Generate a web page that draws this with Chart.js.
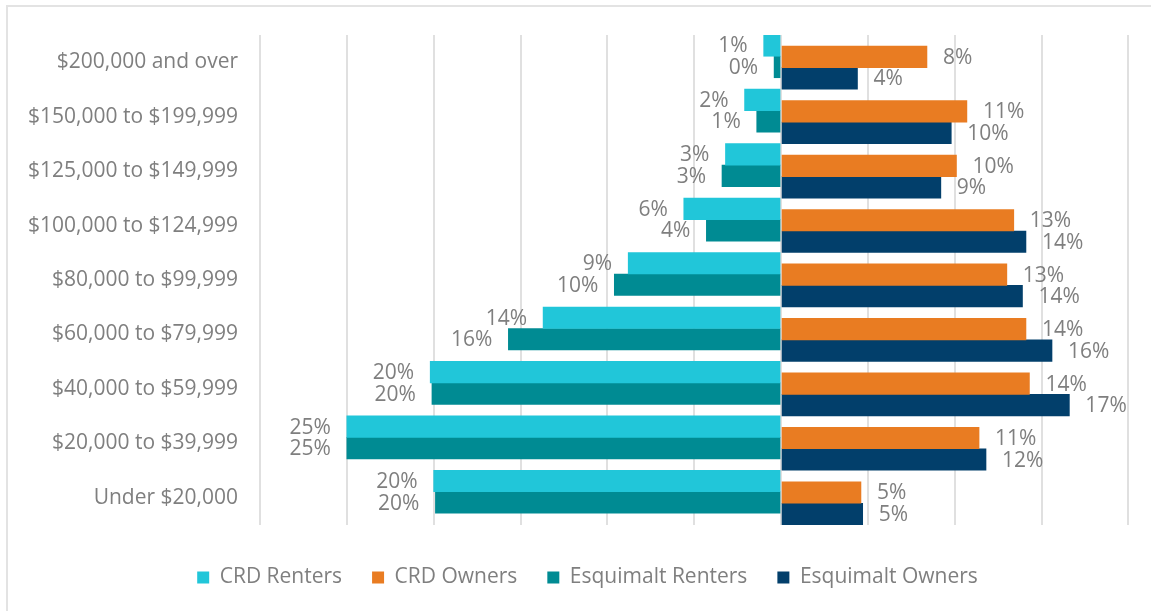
<!DOCTYPE html>
<html>
<head>
<meta charset="utf-8">
<script src="https://cdn.jsdelivr.net/npm/chart.js@4.4.0/dist/chart.umd.min.js"></script>
<style>
  html, body { margin: 0; padding: 0; background: #fff; }
  #wrap { width: 1151px; height: 611px; position: relative; }
</style>
</head>
<body>
<div id="wrap"><canvas id="myChart" width="1151" height="611"></canvas></div>
<script>
var incomes = ['$200,000 and over', '$150,000 to $199,999', '$125,000 to $149,999', '$100,000 to $124,999',
    '$80,000 to $99,999', '$60,000 to $79,999', '$40,000 to $59,999', '$20,000 to $39,999', 'Under $20,000'];
// percent of households, renters are drawn to the left
var crdRenters = [1.0, 2.1, 3.2, 5.6, 8.8, 13.7, 20.2, 25.0, 20.0];
var crdOwners = [8.4, 10.7, 10.1, 13.4, 13.0, 14.1, 14.3, 11.4, 4.6];
var esqRenters = [0.4, 1.4, 3.4, 4.3, 9.6, 15.7, 20.1, 25.0, 19.9];
var esqOwners = [4.4, 9.8, 9.2, 14.1, 13.9, 15.6, 16.6, 11.8, 4.7];
var gridTicks = [-30, -25, -20, -15, -10, -5, 0, 5, 10, 15, 20];

var grey = '#7f7f7f';
var font = '"Open Sans", "Noto Sans", sans-serif';

// renters and owners sit a bit apart inside each band, like the excel original (two axes)
function points(arr, sign, shift) {
    return arr.map(function (v, i) { return { x: sign * v, y: i + shift }; });
}

var datasets = [
    { label: 'CRD Renters', data: points(crdRenters, -1, -0.11), backgroundColor: '#21c6d9', stack: 'crd' },
    { label: 'CRD Owners', data: points(crdOwners, 1, 0.1), backgroundColor: '#e97c22', stack: 'crd' },
    { label: 'Esquimalt Renters', data: points(esqRenters, -1, -0.11), backgroundColor: '#008b93', stack: 'esq' },
    { label: 'Esquimalt Owners', data: points(esqOwners, 1, 0.1), backgroundColor: '#023f6b', stack: 'esq' }
];

// percent labels just past the end of each bar
var valueLabels = {
    id: 'valueLabels',
    afterDatasetsDraw: function (chart) {
        var c = chart.ctx;
        c.save();
        c.font = '21px ' + font;
        c.fillStyle = grey;
        c.textBaseline = 'middle';
        chart.data.datasets.forEach(function (ds, i) {
            var meta = chart.getDatasetMeta(i);
            meta.data.forEach(function (bar, j) {
                var v = ds.data[j].x;
                var txt = Math.round(Math.abs(v)) + '%';
                if (v < 0) {
                    c.textAlign = 'right';
                    c.fillText(txt, bar.x - 16, bar.y + 1);
                } else {
                    c.textAlign = 'left';
                    c.fillText(txt, bar.x + 16, bar.y + 1);
                }
            });
        });
        c.restore();
    }
};

// frame lines on top and left like the original picture
var frame = {
    id: 'frame',
    beforeDraw: function (chart) {
        var c = chart.ctx;
        c.save();
        c.strokeStyle = '#e3e3e3';
        c.lineWidth = 2;
        c.beginPath();
        c.moveTo(7, 611);
        c.lineTo(7, 6);
        c.lineTo(1151, 6);
        c.stroke();
        c.restore();
    }
};

var ctx = document.getElementById('myChart');
var myChart = new Chart(ctx, {
    type: 'bar',
    data: {
        datasets: datasets
    },
    plugins: [frame, valueLabels],
    options: {
        indexAxis: 'y',
        responsive: false,
        animation: false,
        layout: { padding: { left: 24, right: 0, top: 35, bottom: 13 } },
        datasets: { bar: { barThickness: 21.5 } },
        scales: {
            x: {
                stacked: true,
                min: -30,
                max: 21.3,
                afterBuildTicks: function (scale) {
                    scale.ticks = gridTicks.map(function (v) { return { value: v }; });
                },
                afterFit: function (scale) { scale.height = 12; },
                ticks: { display: false },
                grid: { color: '#e0e0e0', lineWidth: 2, drawTicks: false },
                border: { display: false }
            },
            y: {
                type: 'linear',
                offset: false,
                stacked: true,
                reverse: true,
                min: -0.5,
                max: 8.5,
                afterBuildTicks: function (scale) {
                    scale.ticks = incomes.map(function (s, i) { return { value: i }; });
                },
                afterFit: function (scale) { scale.width = 236; },
                ticks: {
                    color: grey,
                    font: { family: font, size: 21 },
                    padding: 22,
                    callback: function (value) { return incomes[value]; }
                },
                grid: { display: false, drawTicks: false, offset: false },
                border: { display: false }
            }
        },
        plugins: {
            legend: {
                position: 'bottom',
                labels: {
                    color: grey,
                    font: { family: font, size: 21 },
                    boxWidth: 12,
                    boxHeight: 12,
                    padding: 30
                }
            },
            tooltip: { enabled: false }
        }
    }
});
</script>
</body>
</html>
